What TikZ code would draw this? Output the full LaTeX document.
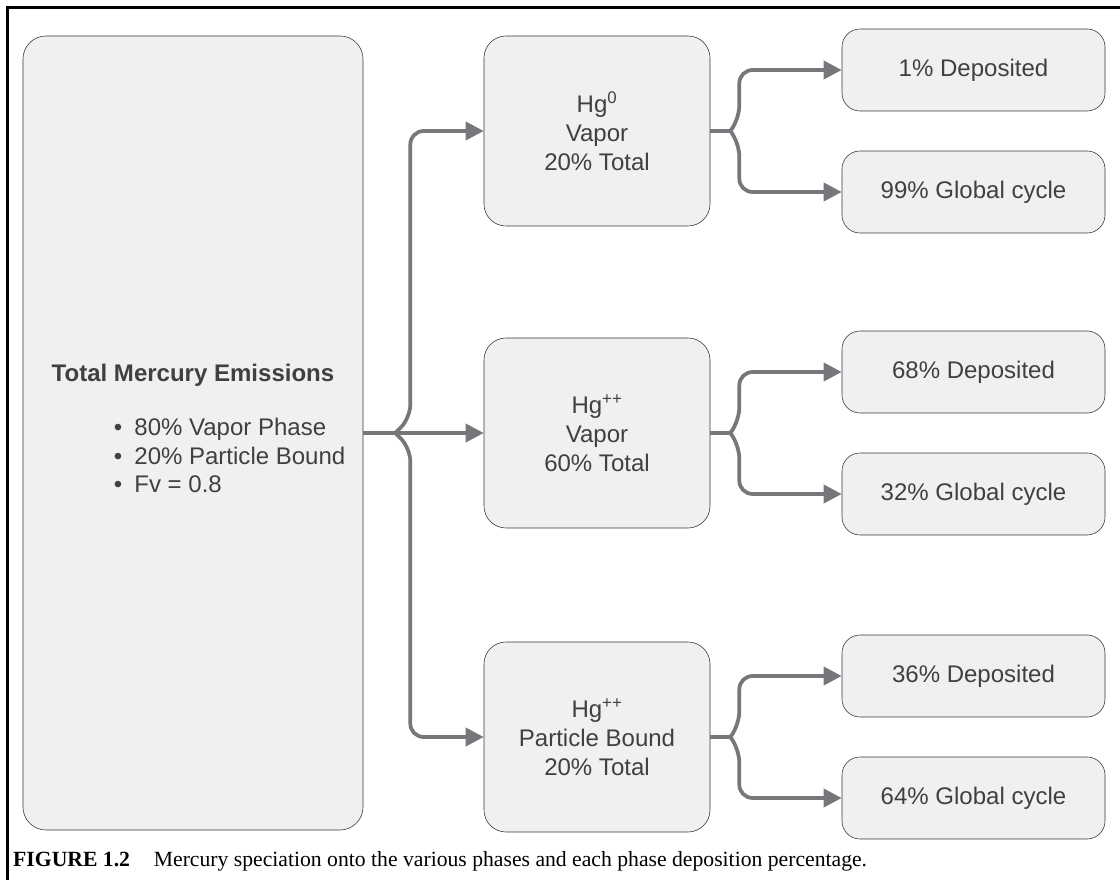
\documentclass[tikz,border=0pt]{standalone}
\usepackage{fontspec}
\setmainfont{Liberation Serif}
\setsansfont{Liberation Sans}
\usepackage{tikz}
\usetikzlibrary{arrows.meta,math}
\definecolor{FlowGrey}{RGB}{118,119,122}
\definecolor{BoxFill}{RGB}{239,240,242}
\definecolor{BoxLine}{RGB}{58,58,60}
\definecolor{BoxText}{RGB}{64,64,66}
\tikzset{%
  px/.style={x={(0.03cm,0cm)},y={(0cm,-0.03cm)}},
  phase box/.style={draw=BoxLine, line width=0.5pt, fill=BoxFill, text=BoxText,
    align=center, inner sep=0pt, font=\sffamily\fontsize{20.5}{24.7}\selectfont},
  src box/.style={phase box, minimum width=10.2cm, minimum height=23.82cm, rounded corners=6.9mm},
  mid box/.style={phase box, minimum width=6.78cm, minimum height=5.7cm, rounded corners=6.6mm},
  out box/.style={phase box, minimum width=7.89cm, minimum height=2.46cm, rounded corners=5.4mm},
  flow line/.style={draw=FlowGrey, line width=3.2pt},
  flow arrow/.style={flow line, rounded corners=4mm, -{Triangle[length=5.4mm,width=5.4mm]}}
}

\begin{document}
\begin{tikzpicture}[px]
    \tikzmath{
      \mx=597;% middle column
      \rx=973.5;% outcome column
      \ya=131; \yb=433; \yc=737;
      \dy=61;% outcome offset
    }
    \useasboundingbox (0,0) rectangle (1120,880);
    % Frame.
    \draw[line width=2.4pt] (7.5,880) -- (7.5,7.5) -- (1120,7.5);
    % Source.
    \node[src box] (total) at (193,433) {\textbf{Total Mercury Emissions}\\[23pt]
      \hspace*{2.2cm}\begin{tabular}{@{}l@{}}
        •\hspace{0.5em}80\% Vapor Phase\\
        •\hspace{0.5em}20\% Particle Bound\\
        •\hspace{0.5em}Fv = 0.8
      \end{tabular}};
    % Phases.
    \node[mid box] (hgzero) at (\mx,\ya) {Hg\textsuperscript{0}\\Vapor\\20\% Total};
    \node[mid box] (hgvap) at (\mx,\yb) {Hg\textsuperscript{++}\\Vapor\\60\% Total};
    \node[mid box] (hgpart) at (\mx,\yc) {Hg\textsuperscript{++}\\Particle Bound\\20\% Total};
    % Outcomes.
    \node[out box] (depa) at (\rx,\ya-\dy) {1\% Deposited};
    \node[out box] (globa) at (\rx,\ya+\dy) {99\% Global cycle};
    \node[out box] (depb) at (\rx,\yb-\dy) {68\% Deposited};
    \node[out box] (globb) at (\rx,\yb+\dy) {32\% Global cycle};
    \node[out box] (depc) at (\rx,\yc-\dy) {36\% Deposited};
    \node[out box] (globc) at (\rx,\yc+\dy) {64\% Global cycle};
    % Split of the emissions.
    \draw[flow arrow] (total.east) -- (hgvap.west);
    \draw[flow line] (total.east) -- ++(32,0) coordinate (split);
    \draw[flow arrow] (split) -- ++(15,-15) |- (hgzero.west);
    \draw[flow arrow] (split) -- ++(15,15) |- (hgpart.west);
    % Split of each phase.
    \foreach \m/\a/\b in {hgzero/depa/globa,hgvap/depb/globb,hgpart/depc/globc}{
      \draw[flow line] (\m.east) -- ++(20,0) coordinate (\m-tip);
      \draw[flow arrow] (\m-tip) -- ++(9,-12) |- (\a.west);
      \draw[flow arrow] (\m-tip) -- ++(9,12) |- (\b.west);
    }
    \node[anchor=base west, inner sep=0pt, font=\rmfamily\fontsize{18.5}{22}\selectfont] (caption)
      at (13,866) {\textbf{FIGURE 1.2}\hspace{1.1em}Mercury speciation onto the various phases and each phase deposition percentage.};
\end{tikzpicture}
\end{document}
